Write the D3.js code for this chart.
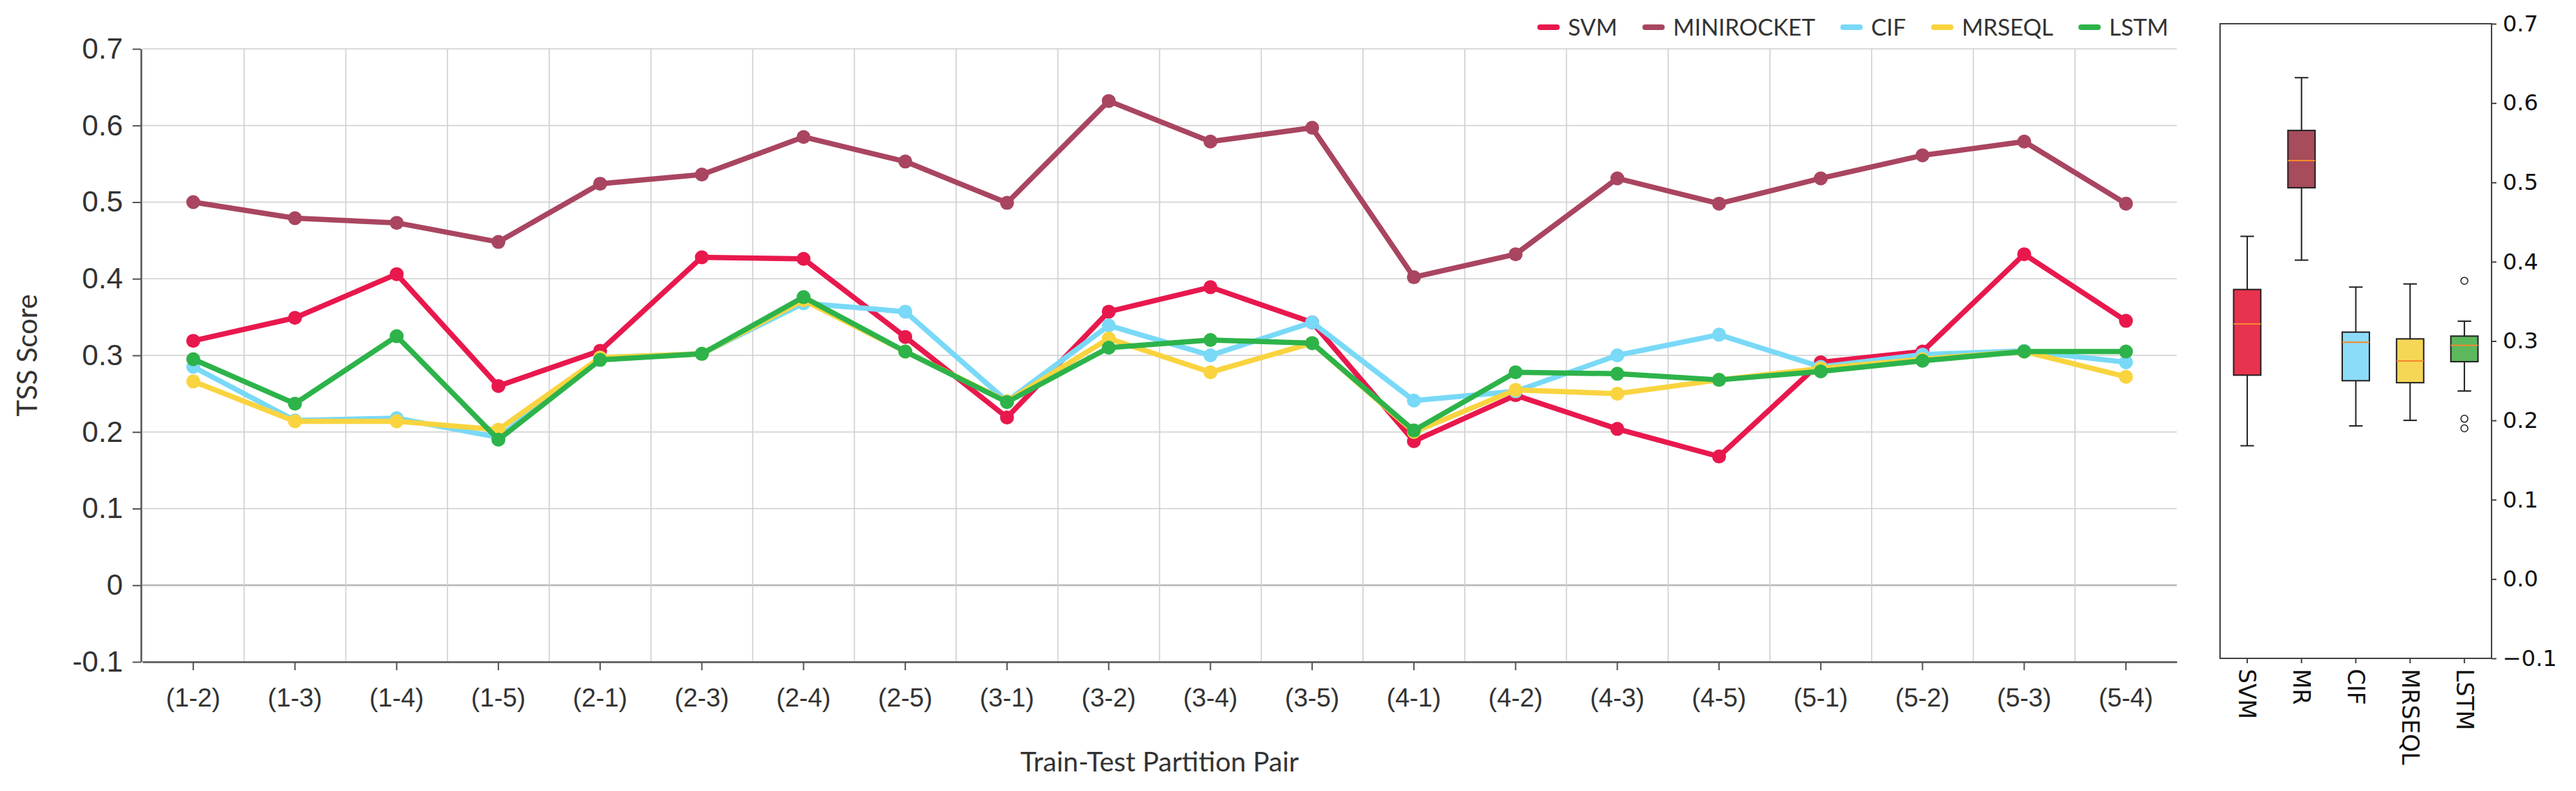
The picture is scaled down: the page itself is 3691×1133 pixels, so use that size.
<!DOCTYPE html>
<html lang="en">
<head>
<meta charset="UTF-8">
<title>TSS Score by Train-Test Partition Pair</title>
<script src="https://cdn.jsdelivr.net/npm/d3@7"></script>
<style>
  body { margin: 0; background: #fff; }
  svg { display: block; }
</style>
</head>
<body>
<svg id="chart" width="3691" height="1133"></svg>
<script>
// ---- data ----
const pairs = ["(1-2)", "(1-3)", "(1-4)", "(1-5)", "(2-1)", "(2-3)", "(2-4)", "(2-5)", "(3-1)", "(3-2)",
               "(3-4)", "(3-5)", "(4-1)", "(4-2)", "(4-3)", "(4-5)", "(5-1)", "(5-2)", "(5-3)", "(5-4)"];
const models = ["SVM", "MINIROCKET", "CIF", "MRSEQL", "LSTM"];
const boxLabels = ["SVM", "MR", "CIF", "MRSEQL", "LSTM"];

const svm        = [0.319, 0.349, 0.406, 0.260, 0.306, 0.428, 0.426, 0.324, 0.219, 0.357,
                    0.389, 0.343, 0.188, 0.248, 0.204, 0.168, 0.291, 0.305, 0.432, 0.345];
const minirocket = [0.500, 0.479, 0.473, 0.448, 0.524, 0.536, 0.585, 0.553, 0.499, 0.632,
                    0.579, 0.597, 0.402, 0.432, 0.531, 0.498, 0.531, 0.561, 0.579, 0.498];
const cif        = [0.285, 0.215, 0.218, 0.193, 0.297, 0.302, 0.368, 0.357, 0.240, 0.339,
                    0.300, 0.343, 0.241, 0.253, 0.300, 0.327, 0.285, 0.301, 0.306, 0.291];
const mrseql     = [0.266, 0.214, 0.214, 0.203, 0.297, 0.302, 0.372, 0.305, 0.240, 0.322,
                    0.278, 0.316, 0.200, 0.255, 0.250, 0.268, 0.283, 0.295, 0.305, 0.272];
const lstm       = [0.295, 0.237, 0.325, 0.190, 0.294, 0.302, 0.376, 0.305, 0.239, 0.310,
                    0.320, 0.316, 0.202, 0.278, 0.276, 0.268, 0.279, 0.293, 0.305, 0.305];
const series = [svm, minirocket, cif, mrseql, lstm];

const yTicks = [-0.1, 0, 0.1, 0.2, 0.3, 0.4, 0.5, 0.6, 0.7];

// styles
const lineColors = ["#e8184d", "#a94560", "#79d9f7", "#f9d43f", "#2db34a"];
const boxColors  = ["#e8334f", "#a84b5b", "#8cdcf9", "#f6d655", "#5cb85c"];

const svg = d3.select("#chart");

// ---------------- line chart ----------------
const x = d3.scaleBand().domain(pairs).range([204, 3119]);
const y = d3.scaleLinear().domain([-0.1, 0.7]).range([948, 70]);
const cx = p => x(p) + x.bandwidth() / 2;
const [xl, xr] = x.range();

const grid = svg.append("g");
grid.selectAll("line.h").data(yTicks).join("line")
    .attr("class", "h")
    .attr("x1", xl).attr("x2", xr)
    .attr("y1", d => y(d)).attr("y2", d => y(d))
    .attr("stroke", d => d === 0 ? "#b8b8b8" : "#cfcfcf")
    .attr("stroke-width", d => d === 0 ? 2.5 : 1.6);
grid.selectAll("line.v").data(pairs.slice(1)).join("line")
    .attr("class", "v")
    .attr("x1", d => x(d)).attr("x2", d => x(d))
    .attr("y1", y(0.7)).attr("y2", y(-0.1))
    .attr("stroke", "#cfcfcf")
    .attr("stroke-width", 1.6);

const fmtLeft = d => d === 0 ? "0" : d3.format(".1f")(d).replace("\u2212", "-");

const yAxis = svg.append("g")
    .attr("transform", `translate(${xl - 2},0)`)
    .call(d3.axisLeft(y).tickValues(yTicks).tickFormat(fmtLeft).tickSize(12).tickSizeOuter(0).tickPadding(14));
yAxis.selectAll("text").attr("font-family", "Liberation Sans").attr("font-size", 42).attr("fill", "#333");

const xAxis = svg.append("g")
    .attr("transform", `translate(0,${y(-0.1)})`)
    .call(d3.axisBottom(x).tickSize(12).tickSizeOuter(0).tickPadding(26));
xAxis.selectAll("text").attr("font-family", "Liberation Sans").attr("font-size", 37).attr("fill", "#333");

[yAxis, xAxis].forEach(a => {
    a.select(".domain").attr("stroke", "#555").attr("stroke-width", 2.5);
    a.selectAll(".tick line").attr("stroke", "#555").attr("stroke-width", 2);
});

svg.append("text")
    .attr("transform", `translate(53,${(y(0.7) + y(-0.1)) / 2}) rotate(-90)`)
    .attr("text-anchor", "middle")
    .attr("font-family", "Lato").attr("font-size", 40).attr("fill", "#333")
    .text("TSS Score");

svg.append("text")
    .attr("x", (xl + xr) / 2).attr("y", 1105)
    .attr("text-anchor", "middle")
    .attr("font-family", "Lato").attr("font-size", 39).attr("fill", "#333")
    .text("Train-Test Partition Pair");

const line = d3.line().x((d, i) => cx(pairs[i])).y(d => y(d));

series.forEach((vals, k) => {
    const g = svg.append("g");
    g.append("path")
        .attr("d", line(vals))
        .attr("fill", "none")
        .attr("stroke", lineColors[k])
        .attr("stroke-width", 7.5)
        .attr("stroke-linejoin", "round");
    g.selectAll("circle").data(vals).join("circle")
        .attr("cx", (d, i) => cx(pairs[i]))
        .attr("cy", d => y(d))
        .attr("r", 10)
        .attr("fill", lineColors[k]);
});

// legend, right aligned to the plot
const legend = svg.append("g");
let lx = 0;
models.forEach((m, k) => {
    const item = legend.append("g").attr("transform", `translate(${lx},0)`);
    item.append("line")
        .attr("x1", 4).attr("x2", 28).attr("y1", 0).attr("y2", 0)
        .attr("stroke", lineColors[k]).attr("stroke-width", 8).attr("stroke-linecap", "round");
    const t = item.append("text")
        .attr("x", 44).attr("dy", "0.35em")
        .attr("font-family", "Lato").attr("font-size", 33).attr("fill", "#333")
        .text(m);
    lx += 44 + t.node().getComputedTextLength() + 36;
});
legend.attr("transform", `translate(${3107 - (lx - 36)},39)`);

// ---------------- box plot ----------------
const bx = d3.scaleBand().domain(boxLabels).range([3181, 3570]);
const by = d3.scaleLinear().domain([-0.1, 0.7]).range([943, 34]);
const bc = l => bx(l) + bx.bandwidth() / 2;
const boxW = bx.bandwidth() * 0.5;
const capW = bx.bandwidth() * 0.25;

function stats(vals) {
    const s = vals.slice().sort(d3.ascending);
    const q1 = d3.quantileSorted(s, 0.25), med = d3.quantileSorted(s, 0.5), q3 = d3.quantileSorted(s, 0.75);
    const iqr = q3 - q1;
    const inside = s.filter(v => v >= q1 - 1.5 * iqr && v <= q3 + 1.5 * iqr);
    return { q1, med, q3, lo: d3.min(inside), hi: d3.max(inside),
             out: s.filter(v => v < q1 - 1.5 * iqr || v > q3 + 1.5 * iqr) };
}

const boxes = svg.append("g");
series.forEach((vals, k) => {
    const s = stats(vals), c = bc(boxLabels[k]);
    const g = boxes.append("g");
    g.append("line").attr("x1", c).attr("x2", c).attr("y1", by(s.q3)).attr("y2", by(s.hi));
    g.append("line").attr("x1", c).attr("x2", c).attr("y1", by(s.q1)).attr("y2", by(s.lo));
    g.append("line").attr("x1", c - capW / 2).attr("x2", c + capW / 2).attr("y1", by(s.hi)).attr("y2", by(s.hi));
    g.append("line").attr("x1", c - capW / 2).attr("x2", c + capW / 2).attr("y1", by(s.lo)).attr("y2", by(s.lo));
    g.selectAll("line").attr("stroke", "#222").attr("stroke-width", 2);
    g.append("rect")
        .attr("x", c - boxW / 2).attr("width", boxW)
        .attr("y", by(s.q3)).attr("height", by(s.q1) - by(s.q3))
        .attr("fill", boxColors[k]).attr("stroke", "#222").attr("stroke-width", 2);
    g.append("line")
        .attr("x1", c - boxW / 2).attr("x2", c + boxW / 2)
        .attr("y1", by(s.med)).attr("y2", by(s.med))
        .attr("stroke", "#f5892c").attr("stroke-width", 2);
    g.selectAll("circle").data(s.out).join("circle")
        .attr("cx", c).attr("cy", d => by(d)).attr("r", 5)
        .attr("fill", "none").attr("stroke", "#222").attr("stroke-width", 1.5);
});

const [bl, br] = bx.range();
svg.append("rect")
    .attr("x", bl).attr("y", by(0.7))
    .attr("width", br - bl).attr("height", by(-0.1) - by(0.7))
    .attr("fill", "none").attr("stroke", "#444").attr("stroke-width", 2);

const rAxis = svg.append("g")
    .attr("transform", `translate(${br},0)`)
    .call(d3.axisRight(by).tickValues(yTicks).tickFormat(d3.format(".1f")).tickSize(7).tickSizeOuter(0).tickPadding(9));
rAxis.select(".domain").remove();
rAxis.selectAll(".tick line").attr("stroke", "#444").attr("stroke-width", 2);
rAxis.selectAll("text").attr("font-family", "DejaVu Sans").attr("font-size", 32).attr("fill", "#111");

const bAxis = svg.append("g").attr("transform", `translate(0,${by(-0.1)})`);
bAxis.selectAll("line").data(boxLabels).join("line")
    .attr("x1", d => bc(d)).attr("x2", d => bc(d)).attr("y1", 0).attr("y2", 7)
    .attr("stroke", "#444").attr("stroke-width", 2);
bAxis.selectAll("text").data(boxLabels).join("text")
    .attr("transform", d => `translate(${bc(d)},15) rotate(90)`)
    .attr("dy", "0.35em")
    .attr("font-family", "DejaVu Sans").attr("font-size", 33).attr("fill", "#111")
    .text(d => d);
</script>
</body>
</html>
